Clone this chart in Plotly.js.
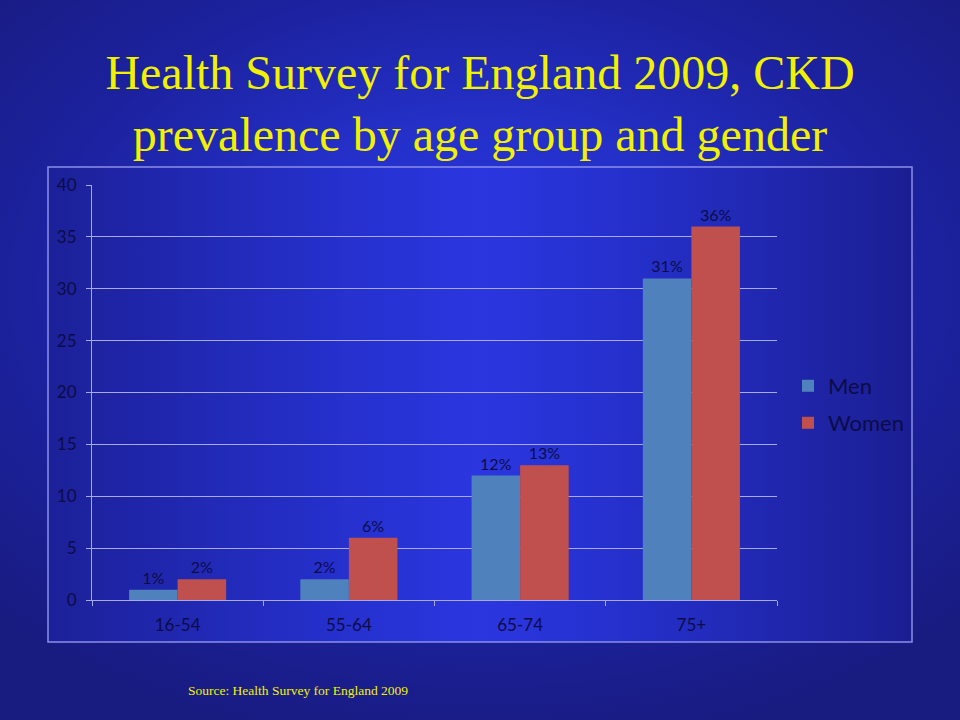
<!DOCTYPE html>
<html>
<head>
<meta charset="utf-8">
<script src="https://cdn.plot.ly/plotly-3.0.1.min.js"></script>
<style>
  html, body { margin: 0; padding: 0; width: 960px; height: 720px; overflow: hidden; }
  body {
    background: radial-gradient(ellipse 70% 65% at 50% 40%, #2d37ea 0%, #2430c8 35%, #1c22a0 65%, #181b80 100%);
  }
  #box {
    position: absolute; left: 48px; top: 167px; width: 864px; height: 475px;
    background: linear-gradient(to right, #1c2098 0%, #2530cc 33%, #2b36e0 50%, #2530cc 67%, #1b1e92 100%);
  }
  #chart { position: absolute; left: 0; top: 0; width: 960px; height: 720px; }
</style>
</head>
<body>
<div id="box"></div>
<div id="chart"></div>
<script>
const categories = ["16-54", "55-64", "65-74", "75+"];
const men = [1, 2, 12, 31];
const women = [2, 6, 13, 36];
const menLabels = ["1%", "2%", "12%", "31%"];
const womenLabels = ["2%", "6%", "13%", "36%"];
const yTicks = [0, 5, 10, 15, 20, 25, 30, 35, 40];

const sans = "Lato, 'Open Sans', sans-serif";
const ink = "#0c0c48";
const labelFont = { family: sans, size: 16, color: ink };

const traces = [
  { type: "bar", name: "Men", x: categories, y: men, text: menLabels,
    textposition: "outside", textfont: labelFont, cliponaxis: false,
    marker: { color: "#4f81bd" }, legend: "legend" },
  { type: "bar", name: "Women", x: categories, y: women, text: womenLabels,
    textposition: "outside", textfont: labelFont, cliponaxis: false,
    marker: { color: "#c0504d" }, legend: "legend2" }
];

const legendBase = {
  x: 0.012, xanchor: "left", yanchor: "middle", xref: "paper",
  font: { family: sans, size: 22, color: ink },
  bgcolor: "rgba(0,0,0,0)"
};

const layout = {
  width: 960, height: 720,
  paper_bgcolor: "rgba(0,0,0,0)", plot_bgcolor: "rgba(0,0,0,0)",
  margin: { l: 92, r: 183, t: 185, b: 120 },
  barmode: "group", bargap: 0.433, bargroupgap: 0,
  showlegend: true,
  title: {
    text: "Health Survey for England 2009, CKD<br>prevalence by age group and gender",
    font: { family: "'Liberation Serif', 'Times New Roman', serif", size: 48, color: "#f2f200" },
    x: 0.5, xanchor: "center", y: 0.877, yanchor: "middle", yref: "container"
  },
  xaxis: {
    type: "category", tickson: "boundaries", ticks: "outside", ticklen: 5,
    tickcolor: "#a8aae8", showline: true, linecolor: "#a8aae8", linewidth: 1,
    showgrid: false, ticklabelstandoff: 10,
    tickfont: { family: sans, size: 17, color: ink }
  },
  yaxis: {
    range: [0, 40], tickvals: yTicks, ticks: "outside", ticklen: 5,
    tickcolor: "#a8aae8", showline: true, linecolor: "#a8aae8", linewidth: 1,
    showgrid: true, gridcolor: "#a8aae8", gridwidth: 1, zeroline: false,
    ticklabelstandoff: 6,
    tickfont: { family: sans, size: 17, color: ink }
  },
  legend: Object.assign({}, legendBase, { x: (788 - 92) / 685, y: (600 - 386) / 415 }),
  legend2: Object.assign({}, legendBase, { x: (788 - 92) / 685, y: (600 - 423) / 415 }),
  shapes: [
    { type: "rect", xref: "paper", yref: "paper",
      x0: -44/685, x1: 820/685, y0: -42/415, y1: 433/415,
      line: { color: "#8a8ee6", width: 1.5 }, fillcolor: "rgba(0,0,0,0)" }
  ],
  annotations: [
    { text: "Source: Health Survey for England 2009", xref: "paper", yref: "paper",
      x: (298-92)/685, y: -(690-600)/415, xanchor: "center", yanchor: "middle",
      showarrow: false,
      font: { family: "'Liberation Serif', 'Times New Roman', serif", size: 13.5, color: "#f2f200" } }
  ]
};

Plotly.newPlot("chart", traces, layout, { displayModeBar: false, staticPlot: true });
</script>
</body>
</html>
